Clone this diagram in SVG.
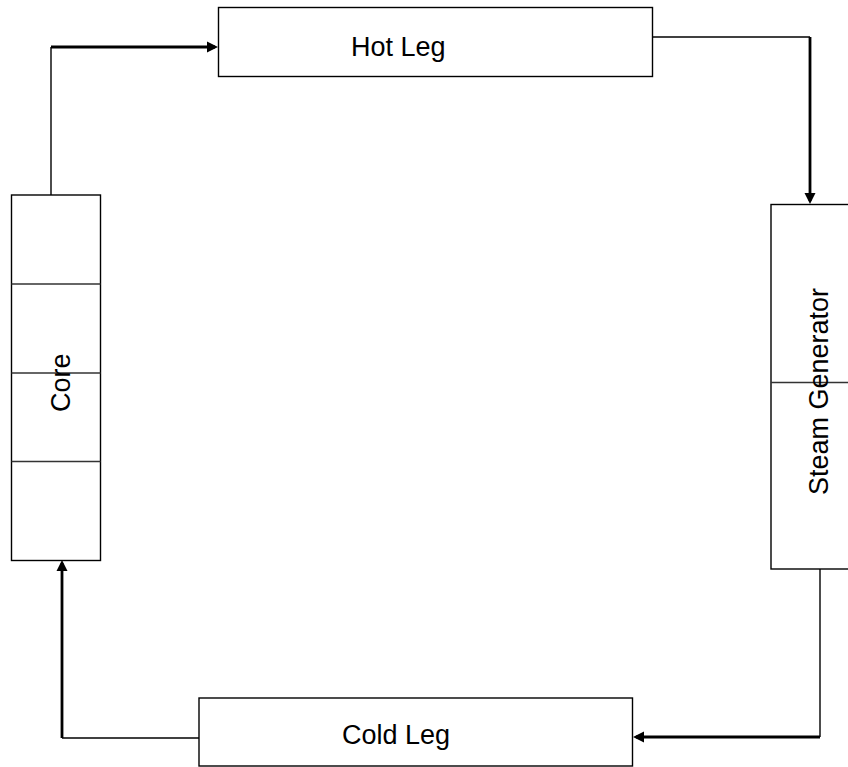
<svg xmlns="http://www.w3.org/2000/svg" width="848" height="767" viewBox="0 0 848 767">
  <style>
    .box { fill: #ffffff; stroke: #000000; stroke-width: 1.4; }
    .div { stroke: #333333; stroke-width: 1.4; fill: none; }
    .lbl { font-family: "Liberation Sans", Arial, sans-serif; font-size: 27px; fill: #000000; }
    .thin { fill: none; stroke: #000000; stroke-width: 1.4; }
    .thick { fill: none; stroke: #000000; stroke-width: 2.8; marker-end: url(#arrow); }
  </style>
  <defs>
    <marker id="arrow" markerUnits="userSpaceOnUse" markerWidth="12" markerHeight="12" viewBox="0 0 12 12" refX="8" refY="6" orient="auto">
      <path d="M0,0.5 L11,6 L0,11.5 z" fill="#000000"/>
    </marker>
  </defs>
  <rect width="848" height="767" fill="#ffffff"/>

  <g id="connectors">
    <path class="thin" d="M51,195 V47"/>
    <path class="thick" d="M51,47 H215"/>
    <path class="thin" d="M653,37 H810"/>
    <path class="thick" d="M810,37 V201"/>
    <path class="thin" d="M820,569 V737"/>
    <path class="thick" d="M820,737 H636"/>
    <path class="thin" d="M199,738 H62"/>
    <path class="thick" d="M62,738 V563"/>
  </g>

  <g id="hot-leg">
    <rect class="box" x="218.5" y="7.5" width="434" height="69"/>
    <text class="lbl" x="351" y="56">Hot Leg</text>
  </g>

  <g id="steam-generator">
    <rect class="box" x="771" y="204.5" width="90" height="364.5"/>
    <line class="div" x1="771" y1="382.5" x2="848" y2="382.5"/>
    <text class="lbl" transform="translate(828,495) rotate(-90)">Steam Generator</text>
  </g>

  <g id="cold-leg">
    <rect class="box" x="199" y="698" width="433.5" height="68"/>
    <text class="lbl" x="342" y="744">Cold Leg</text>
  </g>

  <g id="core">
    <rect class="box" x="11.5" y="195" width="89" height="365.5"/>
    <line class="div" x1="11.5" y1="284" x2="100.5" y2="284"/>
    <line class="div" x1="11.5" y1="373" x2="100.5" y2="373"/>
    <line class="div" x1="11.5" y1="461.5" x2="100.5" y2="461.5"/>
    <text class="lbl" transform="translate(70,412) rotate(-90)">Core</text>
  </g>
</svg>
